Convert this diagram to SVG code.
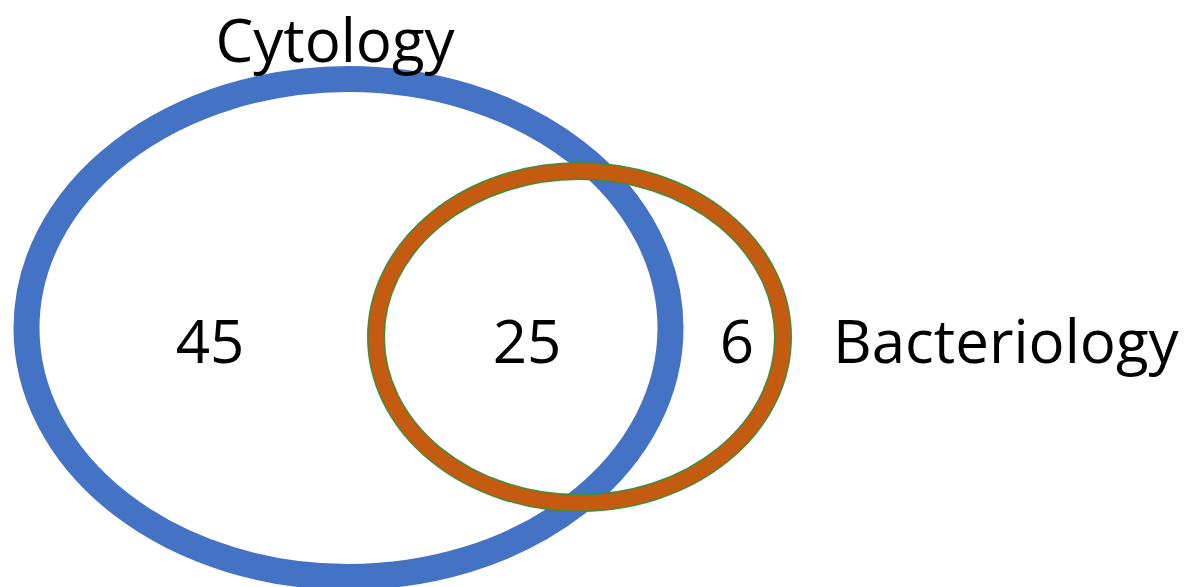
<svg xmlns="http://www.w3.org/2000/svg" width="1192" height="587" viewBox="0 0 1192 587">
<style>
.lbl{font-family:"Open Sans","Liberation Sans",sans-serif;font-size:60px;fill:#000}
.num{text-anchor:middle}
</style>
<rect width="1192" height="587" fill="#fff"/>
<g id="cytology">
<ellipse cx="348.5" cy="328" rx="322" ry="249" fill="none" stroke="#4472C4" stroke-width="26"/>
<text class="lbl" x="335" y="62" text-anchor="middle" font-size="62">Cytology</text>
</g>
<g id="bacteriology">
<ellipse cx="579.5" cy="337" rx="203.5" ry="166" fill="none" stroke="#3E8E3A" stroke-width="18"/>
<ellipse cx="579.5" cy="337" rx="203.5" ry="166" fill="none" stroke="#C55A11" stroke-width="15"/>
<text class="lbl" x="833" y="363">Bacteriology</text>
</g>
<g id="counts">
<text class="lbl num" x="210" y="363">45</text>
<text class="lbl num" x="527" y="363">25</text>
<text class="lbl num" x="737" y="363">6</text>
</g>
<g id="connectors"/>
</svg>
